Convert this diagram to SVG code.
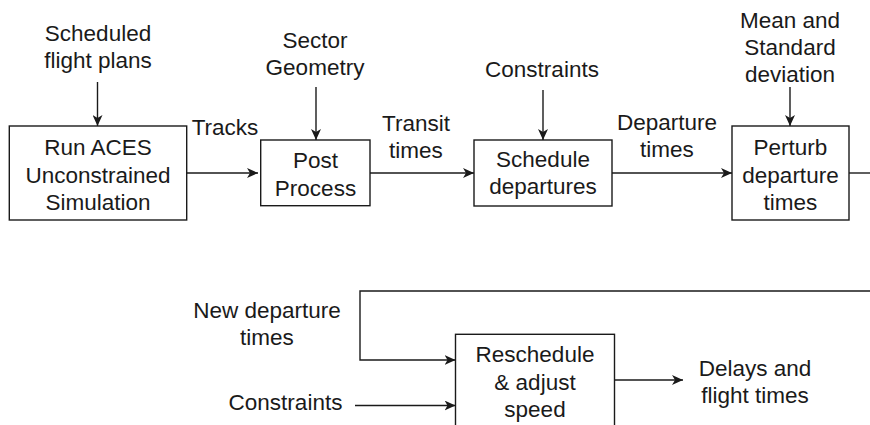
<svg xmlns="http://www.w3.org/2000/svg" width="870" height="425" viewBox="0 0 870 425">
<style>
text{font-family:"Liberation Sans",Arial,sans-serif;font-size:22.5px;fill:#1a1a1a;text-anchor:middle}
.box{fill:#fff;stroke:#1a1a1a;stroke-width:1.4}
.ln{fill:none;stroke:#1a1a1a;stroke-width:1.4}
.arr{marker-end:url(#ah)}
</style>
<defs>
<marker id="ah" markerUnits="userSpaceOnUse" markerWidth="12" markerHeight="10" refX="11" refY="5" orient="auto">
<path d="M0,0 L11,5 L0,10 L3,5 Z" fill="#1a1a1a"/>
</marker>
</defs>
<rect width="870" height="425" fill="#fff"/>
<g id="connectors">
<line class="ln arr" x1="97.5" y1="82" x2="97.5" y2="126"/>
<line class="ln arr" x1="316" y1="87" x2="316" y2="140"/>
<line class="ln arr" x1="543" y1="90" x2="543" y2="140"/>
<line class="ln arr" x1="790" y1="87" x2="790" y2="126"/>
<line class="ln arr" x1="187" y1="173" x2="258" y2="173"/>
<line class="ln arr" x1="370" y1="173" x2="474" y2="173"/>
<line class="ln arr" x1="612" y1="173" x2="732" y2="173"/>
<line class="ln" x1="849" y1="173" x2="870" y2="173"/>
<polyline class="ln arr" points="870,291 360,291 360,360 455.5,360"/>
<line class="ln arr" x1="355" y1="405.5" x2="455.5" y2="405.5"/>
<line class="ln arr" x1="614" y1="380" x2="683" y2="380"/>
</g>
<g id="labels">
<text x="98" y="41">Scheduled</text>
<text x="98" y="68">flight plans</text>
<text x="315" y="48">Sector</text>
<text x="315" y="75">Geometry</text>
<text x="542" y="77">Constraints</text>
<text x="790" y="28">Mean and</text>
<text x="790" y="55">Standard</text>
<text x="790" y="82">deviation</text>
<text x="225" y="135">Tracks</text>
<text x="416" y="131">Transit</text>
<text x="416" y="158">times</text>
<text x="667" y="130">Departure</text>
<text x="667" y="157">times</text>
<text x="267" y="318">New departure</text>
<text x="267" y="345">times</text>
<text x="285.5" y="410">Constraints</text>
<text x="755" y="376">Delays and</text>
<text x="755" y="403">flight times</text>
</g>
<g id="run-aces">
<rect class="box" x="9.3" y="126" width="177.4" height="94"/>
<text x="98" y="155">Run ACES</text>
<text x="98" y="183">Unconstrained</text>
<text x="98" y="210">Simulation</text>
</g>
<g id="post-process">
<rect class="box" x="260.7" y="140" width="109.3" height="65.7"/>
<text x="315.5" y="168">Post</text>
<text x="315.5" y="196">Process</text>
</g>
<g id="schedule-departures">
<rect class="box" x="474" y="140" width="138" height="66"/>
<text x="543" y="167">Schedule</text>
<text x="543" y="194">departures</text>
</g>
<g id="perturb">
<rect class="box" x="732" y="126" width="117" height="94"/>
<text x="790.5" y="155">Perturb</text>
<text x="790.5" y="183">departure</text>
<text x="790.5" y="210">times</text>
</g>
<g id="reschedule">
<rect class="box" x="455.5" y="334.3" width="159" height="100"/>
<text x="535" y="362">Reschedule</text>
<text x="535" y="390">&amp; adjust</text>
<text x="535" y="417">speed</text>
</g>
</svg>
